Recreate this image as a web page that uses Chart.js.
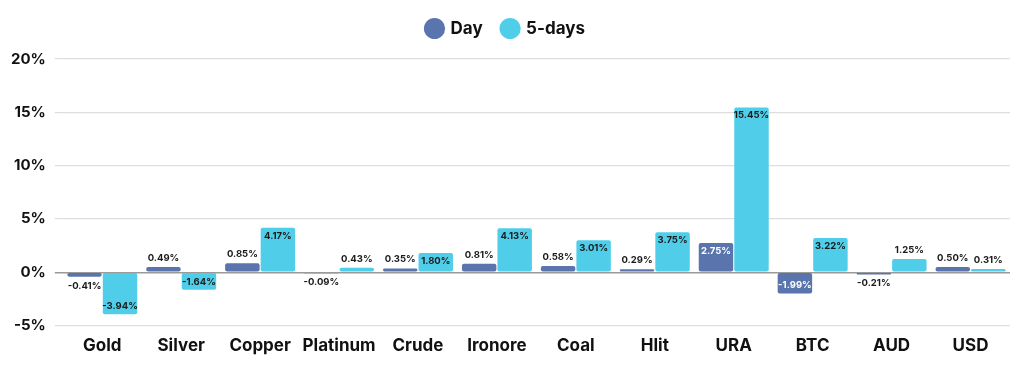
<!DOCTYPE html>
<html>
<head>
<meta charset="utf-8">
<script src="https://cdn.jsdelivr.net/npm/chart.js@4/dist/chart.umd.min.js"></script>
<style>
  html, body { margin: 0; padding: 0; background: #fff; }
  #wrap { width: 1024px; height: 372px; }
</style>
</head>
<body>
<div id="wrap"><canvas id="grafico"></canvas></div>
<script>
const categorias = ["Gold", "Silver", "Copper", "Platinum", "Crude", "Ironore", "Coal", "Hlit", "URA", "BTC", "AUD", "USD"];
const dia = [-0.41, 0.49, 0.85, -0.09, 0.35, 0.81, 0.58, 0.29, 2.75, -1.99, -0.21, 0.50];
const cincoDias = [-3.94, -1.64, 4.17, 0.43, 1.80, 4.13, 3.01, 3.75, 15.45, 3.22, 1.25, 0.31];

const corDia = "#5a74ad";
const corCinco = "#50cee9";
const fonte = "Inter, 'DejaVu Sans', sans-serif";

// rótulos de valor em cima / dentro das barras
const rotulos = {
  id: "rotulos",
  afterDatasetsDraw(chart) {
    const ctx = chart.ctx;
    ctx.save();
    ctx.font = "700 9.5px " + fonte;
    ctx.textAlign = "center";
    ctx.textBaseline = "middle";
    chart.data.datasets.forEach((ds, i) => {
      const meta = chart.getDatasetMeta(i);
      meta.data.forEach((bar, j) => {
        const v = ds.data[j];
        const txt = v.toFixed(2) + "%";
        const h = Math.abs(bar.base - bar.y);
        const neg = v < 0;
        let y;
        if (h > 15) {
          ctx.fillStyle = i === 0 ? "#ffffff" : "#1a1a1a";
          y = neg ? bar.y - 8 : bar.y + 8;
        } else {
          ctx.fillStyle = "#1a1a1a";
          y = neg ? bar.y + 9 : bar.y - 9;
        }
        ctx.fillText(txt, bar.x, y);
      });
    });
    ctx.restore();
  }
};

// espaço extra embaixo da legenda
const espacoLegenda = {
  id: "espacoLegenda",
  beforeInit(chart) {
    const fitOrig = chart.legend.fit;
    chart.legend.fit = function () {
      fitOrig.bind(chart.legend)();
      this.height += 12;
    };
  }
};

new Chart(document.getElementById("grafico"), {
  type: "bar",
  data: {
    labels: categorias,
    datasets: [
      { label: "Day", data: dia, backgroundColor: corDia, borderRadius: 2, borderSkipped: false },
      { label: "5-days", data: cincoDias, backgroundColor: corCinco, borderRadius: 2, borderSkipped: false }
    ]
  },
  options: {
    responsive: true,
    maintainAspectRatio: false,
    animation: false,
    layout: { padding: { left: 2, right: 14, top: 0, bottom: 14 } },
    datasets: { bar: { categoryPercentage: 0.9, barPercentage: 0.97 } },
    plugins: {
      legend: {
        position: "top",
        labels: {
          usePointStyle: true,
          pointStyle: "circle",
          boxWidth: 15,
          boxHeight: 15,
          padding: 20,
          color: "#111",
          font: { family: fonte, size: 17, weight: "700" }
        }
      },
      tooltip: { enabled: false }
    },
    scales: {
      x: {
        grid: { display: false },
        border: { display: false },
        ticks: {
          color: "#111",
          font: { family: fonte, size: 17, weight: "700" },
          padding: 2,
          maxRotation: 0,
          minRotation: 0,
          autoSkip: false
        }
      },
      y: {
        min: -5,
        max: 20,
        border: { display: false },
        grid: {
          color: ctx => ctx.tick.value === 0 ? "#9a9a9a" : "#dedede",
          lineWidth: ctx => ctx.tick.value === 0 ? 1.5 : 1.2
        },
        ticks: {
          stepSize: 5,
          color: "#111",
          padding: 9,
          font: { family: fonte, size: 15, weight: "700" },
          callback: v => v + "%"
        }
      }
    }
  },
  plugins: [rotulos, espacoLegenda]
});
</script>
</body>
</html>
